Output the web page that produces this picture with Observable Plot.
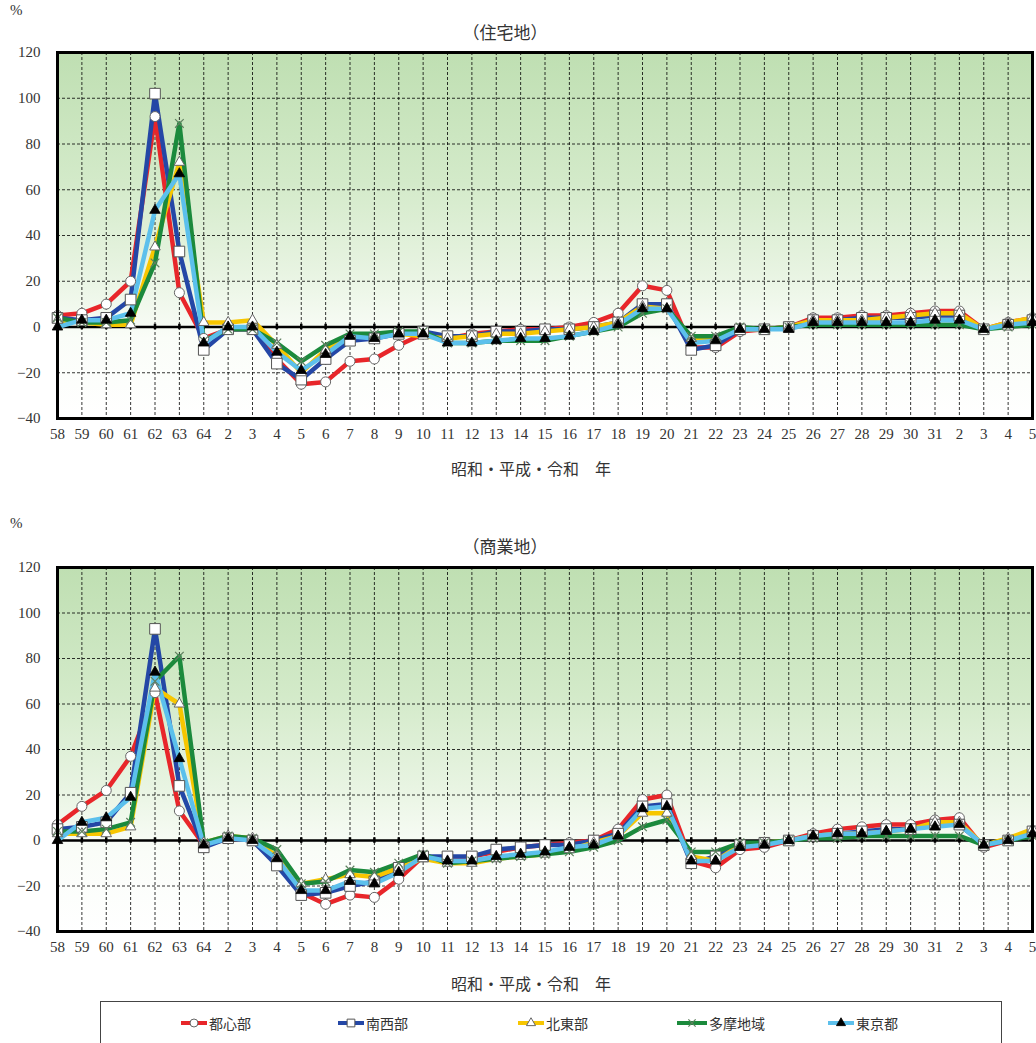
<!DOCTYPE html>
<html>
<head>
<meta charset="utf-8">
<script src="https://cdn.jsdelivr.net/npm/d3@7"></script>
<script src="https://cdn.jsdelivr.net/npm/@observablehq/plot@0.6"></script>
<style>
  body { margin: 0; background: #fff; }
  #wrap { position: relative; width: 1036px; height: 1043px; overflow: hidden; font-family: "Noto Sans CJK JP", sans-serif; color: #333; }
  .abs { position: absolute; }
  .pct { font-family: "Liberation Serif", serif; font-size: 15px; }
  .title { font-size: 17px; text-align: center; }
  .xl { font-size: 16px; text-align: center; }
  #legend { position: absolute; left: 100px; top: 1001px; width: 900px; height: 60px; border: 1px solid #444; background: #fff; }
  .li { position: absolute; top: 11px; font-size: 14px; display: flex; align-items: center; }
  .li svg { margin-right: 2px; }
  svg.plotsvg text { font-family: "Liberation Serif", serif; }
</style>
</head>
<body>
<div id="wrap">
  <div class="abs pct" style="left:10px;top:2px">%</div>
  <div class="abs title" style="left:0;width:1010px;top:19px">（住宅地）</div>
  <div class="abs" id="p1" style="left:0;top:0"></div>
  <div class="abs xl" style="left:0;width:1062px;top:456px">昭和・平成・令和　年</div>

  <div class="abs pct" style="left:10px;top:515px">%</div>
  <div class="abs title" style="left:0;width:1010px;top:533px">（商業地）</div>
  <div class="abs" id="p2" style="left:0;top:490px"></div>
  <div class="abs xl" style="left:0;width:1062px;top:971px">昭和・平成・令和　年</div>

  <div id="legend"></div>
</div>
<script>
// ---- data ----
const labels = ["58","59","60","61","62","63","64",
  "2","3","4","5","6","7","8","9","10","11","12","13","14","15","16","17","18","19","20",
  "21","22","23","24","25","26","27","28","29","30","31",
  "2","3","4","5"];
const yTicks = [-40,-20,0,20,40,60,80,100,120];
const seriesNames = ["都心部","南西部","北東部","多摩地域","東京都"];
const seriesColors = ["#e8262a","#2447a6","#f7c600","#1b8a3c","#5cc0ec"];

// 住宅地
const toshinRes = [5,6,10,20,92,15,-5, -1,-1,-14,-25,-24,-15,-14,-8,-3,-5,-3,-2,-1,-1,0,2,6,18,16,-9,-9,-2,-1,0,4,4,5,5,6,7, 7,-1,2,4];
const nanseiRes = [4,3,4,12,102,33,-10, -1,-1,-16,-23,-14,-6,-5,-3,-2,-4,-4,-2,-2,-1,-1,0,2,10,10,-10,-8,-1,-1,0,3,3,4,4,4,5, 5,-1,1,3];
const hokutoRes = [3,2,1,1,35,72,2, 2,3,-8,-20,-10,-4,-4,-3,-4,-5,-4,-3,-3,-2,-1,0,2,9,8,-5,-5,-1,-1,0,3,3,3,4,5,6, 6,-1,2,4];
const tamaRes   = [4,2,2,3,28,89,-6, -1,-1,-7,-15,-8,-3,-3,-2,-2,-7,-7,-6,-6,-6,-4,-2,0,6,8,-4,-4,0,-1,0,1,1,1,1,1,1, 1,-1,0,1];
const tokyoRes  = [0,3,3,6,51,67,-7, 0,0,-11,-19,-12,-4,-5,-3,-3,-7,-7,-6,-5,-5,-4,-2,1,8,8,-7,-6,-1,-1,-1,2,2,2,2,2,3, 3,-1,1,2];

// 商業地
const toshinCom = [7,15,22,37,65,13,-2, 1,0,-10,-23,-28,-24,-25,-17,-7,-8,-7,-5,-3,-2,-1,0,5,18,20,-9,-12,-4,-3,0,3,5,6,7,7,9, 10,-3,0,3];
const nanseiCom = [5,6,8,21,93,24,-3, 1,0,-11,-24,-23,-20,-18,-12,-7,-7,-7,-4,-3,-2,-2,0,3,15,16,-10,-7,-2,-1,0,2,3,4,5,5,7, 7,-2,0,4];
const hokutoCom = [3,3,3,6,67,60,-1, 2,1,-7,-19,-17,-15,-16,-12,-8,-10,-10,-8,-7,-6,-4,-1,2,12,12,-7,-9,-2,-1,0,2,3,3,4,5,8, 8,-2,1,5];
const tamaCom   = [4,4,5,8,70,81,-1, 2,1,-4,-19,-18,-13,-14,-10,-6,-10,-9,-8,-7,-6,-5,-3,0,6,9,-5,-5,-1,-1,0,1,1,2,2,2,2, 2,-2,0,2];
const tokyoCom  = [0,8,10,19,74,36,-2, 1,0,-8,-22,-22,-18,-19,-14,-7,-9,-9,-7,-6,-5,-3,-2,2,14,15,-9,-9,-3,-2,0,2,3,3,4,5,6, 7,-2,0,3];

const resSeries = [toshinRes, nanseiRes, hokutoRes, tamaRes, tokyoRes];
const comSeries = [toshinCom, nanseiCom, hokutoCom, tamaCom, tokyoCom];

function dotStyle(k) {
  if (k === 3) return {symbol: "times", r: 4, stroke: "#5f7f5f", strokeWidth: 1.2, fill: "none"};
  if (k === 4) return {symbol: "triangle", r: 3.9, fill: "#000", stroke: "#000", strokeWidth: 0.8};
  if (k === 1) return {symbol: "square", r: 6, fill: "#fff", stroke: "#555", strokeWidth: 1};
  if (k === 2) return {symbol: "triangle", r: 3.9, fill: "#fff", stroke: "#666", strokeWidth: 1};
  return {symbol: "circle", r: 5, fill: "#fff", stroke: "#666", strokeWidth: 1};
}

function panel(series, gradId, height, marginTop, marginBottom) {
  const idx = d3.range(labels.length);
  const data = [];
  series.forEach((arr, k) => arr.forEach((v, i) => data.push({i, v, s: seriesNames[k]})));
  const marks = [
    Plot.frame({fill: `url(#${gradId})`}),
    Plot.ruleX(idx, {stroke: "#000", strokeWidth: 0.8, strokeDasharray: "3,2"}),
    Plot.ruleY(yTicks, {stroke: "#000", strokeWidth: 0.8, strokeDasharray: "3,2"}),
    Plot.ruleY([0], {stroke: "#000", strokeWidth: 2.5}),
    Plot.ruleX(idx, {y1: -1.2, y2: 1.2, stroke: "#000", strokeWidth: 2.5}),
    Plot.line(data, {x: "i", y: "v", z: "s", stroke: "s", strokeWidth: 4.5, strokeLinejoin: "round"})
  ];
  series.forEach((arr, k) => {
    const pts = arr.map((v, i) => ({i, v}));
    marks.push(Plot.dot(pts, {x: "i", y: "v", ...dotStyle(k)}));
  });
  marks.push(Plot.frame({stroke: "#000", strokeWidth: 3}));
  const svg = Plot.plot({
    width: 1036, height, marginLeft: 57, marginRight: 4, marginTop, marginBottom,
    className: "plotsvg",
    style: {fontFamily: "'Liberation Serif', serif", fontSize: "15px", color: "#333", background: "transparent", overflow: "visible"},
    x: {domain: [0, labels.length - 1], ticks: idx, tickFormat: i => labels[i], tickSize: 0, tickPadding: 10, label: null},
    y: {domain: [-40, 120], ticks: yTicks, tickSize: 0, tickPadding: 17, label: null},
    color: {domain: seriesNames, range: seriesColors},
    marks
  });
  svg.classList.add("plotsvg");
  const defs = d3.select(svg).insert("defs", ":first-child");
  const g = defs.append("linearGradient").attr("id", gradId).attr("x1", 0).attr("y1", 0).attr("x2", 0).attr("y2", 1);
  [[0, "#bfdfb2"], [0.35, "#d3eac9"], [0.6, "#e8f4e2"], [0.78, "#fafdf8"], [1, "#ffffff"]]
    .forEach(([o, c]) => g.append("stop").attr("offset", o).attr("stop-color", c));
  return svg;
}

document.getElementById("p1").append(panel(resSeries, "gradRes", 490, 52, 72));
document.getElementById("p2").append(panel(comSeries, "gradCom", 500, 77, 59));

// legend
const legendX = [80, 237, 417, 576, 727];
const leg = document.getElementById("legend");
seriesNames.forEach((name, k) => {
  const item = document.createElement("div");
  item.className = "li";
  item.style.left = legendX[k] + "px";
  const w = k === 3 ? 30 : 26;
  const st = dotStyle(k);
  const symType = k === 3 ? d3.symbolTimes : k === 1 ? d3.symbolSquare : k === 0 ? d3.symbolCircle : d3.symbolTriangle;
  const size = k === 1 ? 60 : k === 0 ? 50 : 36;
  const sym = d3.symbol(symType, size)();
  item.innerHTML = `<svg width="${w}" height="14"><line x1="0" x2="${w}" y1="7" y2="7" stroke="${seriesColors[k]}" stroke-width="4"/>` +
    `<path transform="translate(${w/2},7)" d="${sym}" fill="${st.fill}" stroke="${st.stroke}" stroke-width="${st.strokeWidth}"/></svg>` +
    `<span>${name}</span>`;
  leg.append(item);
});
</script>
</body>
</html>
